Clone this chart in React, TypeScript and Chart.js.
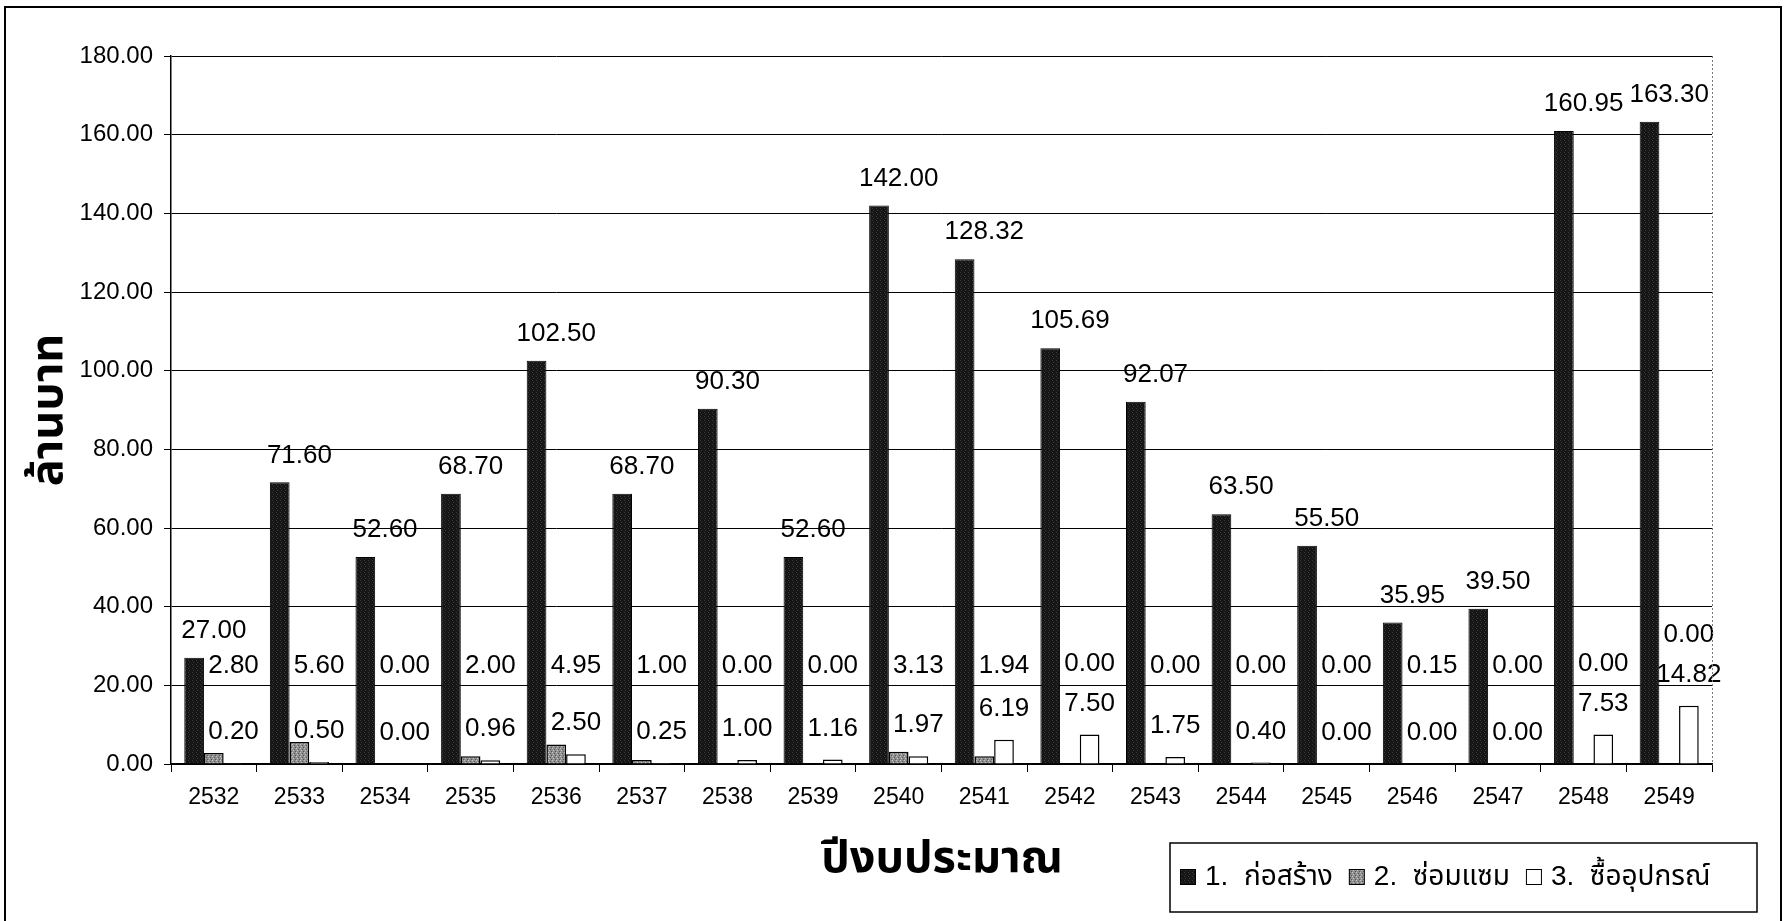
import React, { useEffect, useRef } from 'react';
import { Chart, registerables } from 'chart.js';

Chart.register(...registerables);

// ---- data ----
const years = ['2532', '2533', '2534', '2535', '2536', '2537', '2538', '2539', '2540', '2541', '2542', '2543', '2544', '2545', '2546', '2547', '2548', '2549'];
const construction = [27.0, 71.6, 52.6, 68.7, 102.5, 68.7, 90.3, 52.6, 142.0, 128.32, 105.69, 92.07, 63.5, 55.5, 35.95, 39.5, 160.95, 163.3];
const repair = [2.8, 5.6, 0.0, 2.0, 4.95, 1.0, 0.0, 0.0, 3.13, 1.94, 0.0, 0.0, 0.0, 0.0, 0.15, 0.0, 0.0, 0.0];
const equipment = [0.2, 0.5, 0.0, 0.96, 2.5, 0.25, 1.0, 1.16, 1.97, 6.19, 7.5, 1.75, 0.4, 0.0, 0.0, 0.0, 7.53, 14.82];
const seriesNames = ['1.  ก่อสร้าง', '2.  ซ่อมแซม', '3.  ซื้ออุปกรณ์'];
const yMin = 0;
const yMax = 180;
const yStep = 20;
const xTitle = 'ปีงบประมาณ';
const yTitle = 'ล้านบาท';

const ARIAL = '"Liberation Sans", Arial, sans-serif';
const THAI = '"Liberation Sans", "Noto Sans Thai", "Noto Sans Thai UI", Loma, Garuda, Tahoma, sans-serif';

function makePattern(ctx: CanvasRenderingContext2D, base: string, spots: string[]) {
  const c = document.createElement('canvas');
  c.width = 4;
  c.height = 4;
  const g = c.getContext('2d')!;
  g.fillStyle = base;
  g.fillRect(0, 0, 4, 4);
  const pts = [[0, 0], [2, 1], [1, 2], [3, 3]];
  pts.forEach((p, i) => {
    g.fillStyle = spots[i % spots.length];
    g.fillRect(p[0], p[1], 1, 1);
  });
  return ctx.createPattern(c, 'repeat')!;
}

const labelsPlugin = {
  id: 'valueLabels',
  afterDatasetsDraw(chart: any) {
    const ctx = chart.ctx as CanvasRenderingContext2D;
    const xs = chart.scales.x;
    const ys = chart.scales.y;
    const m1 = chart.getDatasetMeta(0).data;
    const m3 = chart.getDatasetMeta(2).data;
    ctx.save();
    ctx.fillStyle = '#000';
    ctx.font = `26px ${ARIAL}`;
    ctx.textAlign = 'center';
    ctx.textBaseline = 'middle';
    for (let i = 0; i < years.length; i++) {
      const cx = xs.getPixelForValue(i);
      ctx.fillText(construction[i].toFixed(2), cx, m1[i].y - 27);
      const x3 = m3[i].x;
      const y3 = m3[i].y - 31;
      ctx.fillText(equipment[i].toFixed(2), x3, y3);
      const y2 = Math.min(ys.getPixelForValue(25), y3 - 40);
      ctx.fillText(repair[i].toFixed(2), x3, y2);
    }
    ctx.restore();
  },
};

const decorPlugin = {
  id: 'decor',
  afterDraw(chart: any) {
    const ctx = chart.ctx as CanvasRenderingContext2D;
    const a = chart.chartArea;
    ctx.save();
    // outer frame
    ctx.strokeStyle = '#000';
    ctx.lineWidth = 2;
    ctx.strokeRect(5, 7, 1776, 940);
    // plot area right border (dotted)
    ctx.strokeStyle = '#777';
    ctx.lineWidth = 1;
    ctx.setLineDash([2, 2]);
    ctx.beginPath();
    ctx.moveTo(a.right + 0.5, a.top);
    ctx.lineTo(a.right + 0.5, a.bottom);
    ctx.stroke();
    ctx.setLineDash([]);
    // axis titles
    ctx.fillStyle = '#000';
    ctx.textAlign = 'center';
    ctx.textBaseline = 'middle';
    ctx.font = `bold 45px ${THAI}`;
    ctx.fillText(xTitle, 942, 860);
    ctx.save();
    ctx.translate(50, 410);
    ctx.rotate(-Math.PI / 2);
    ctx.font = `bold 45px ${THAI}`;
    ctx.fillText(yTitle, 0, 0);
    ctx.restore();
    // legend
    const bx = 1170, by = 843, bw = 587, bh = 69;
    ctx.fillStyle = '#fff';
    ctx.fillRect(bx, by, bw, bh);
    ctx.strokeStyle = '#000';
    ctx.lineWidth = 1.5;
    ctx.strokeRect(bx, by, bw, bh);
    ctx.font = `28px ${THAI}`;
    ctx.textAlign = 'left';
    let x = 1180;
    const cy = 877;
    chart.data.datasets.forEach((ds: any) => {
      ctx.fillStyle = ds.backgroundColor;
      ctx.fillRect(x, cy - 8, 15, 15);
      ctx.strokeStyle = '#000';
      ctx.lineWidth = 1;
      ctx.strokeRect(x + 0.5, cy - 7.5, 15, 15);
      x += 15 + 10;
      ctx.fillStyle = '#000';
      ctx.fillText(ds.label, x, cy);
      x += ctx.measureText(ds.label).width + 16;
    });
    ctx.restore();
  },
};

export default function App() {
  const ref = useRef<HTMLCanvasElement | null>(null);
  useEffect(() => {
    document.body.style.margin = '0';
    const canvas = ref.current!;
    const ctx = canvas.getContext('2d')!;
    const blackFill = makePattern(ctx, '#141414', ['#3c3c3c', '#1e1e1e']);
    const grayFill = makePattern(ctx, '#8e8e8e', ['#c8c8c8', '#555555']);
    const chart = new Chart(ctx, {
      type: 'bar',
      data: {
        labels: years,
        datasets: [
          { label: seriesNames[0], data: construction, backgroundColor: blackFill as any, borderColor: '#000', borderWidth: 1 },
          { label: seriesNames[1], data: repair, backgroundColor: grayFill as any, borderColor: '#000', borderWidth: 1.5 },
          { label: seriesNames[2], data: equipment, backgroundColor: '#ffffff', borderColor: '#000', borderWidth: 1.5 },
        ],
      },
      options: {
        responsive: false,
        animation: false,
        layout: { padding: { top: 56, right: 72, left: 0, bottom: 0 } },
        datasets: { bar: { categoryPercentage: 0.69, barPercentage: 1 } } as any,
        plugins: { legend: { display: false }, tooltip: { enabled: false } },
        scales: {
          x: {
            grid: { offset: true, drawOnChartArea: false, drawTicks: true, tickLength: 8, color: '#000' },
            border: { color: '#000', width: 1.5 },
            ticks: { font: { family: ARIAL, size: 23 }, color: '#000', padding: 12, maxRotation: 0, autoSkip: false },
            afterFit: (s: any) => { s.height = 157; },
          },
          y: {
            min: yMin,
            max: yMax,
            ticks: { stepSize: yStep, callback: (v: any) => Number(v).toFixed(2), font: { family: ARIAL, size: 24 }, color: '#000', padding: 11 },
            grid: { color: '#000', tickLength: 7, lineWidth: 1 },
            border: { color: '#000', width: 1.5 },
            afterFit: (s: any) => { s.width = 171; },
          },
        },
      },
      plugins: [labelsPlugin, decorPlugin],
    });
    return () => chart.destroy();
  }, []);
  return <canvas ref={ref} width={1784} height={921} style={{ display: 'block' }} />;
}
